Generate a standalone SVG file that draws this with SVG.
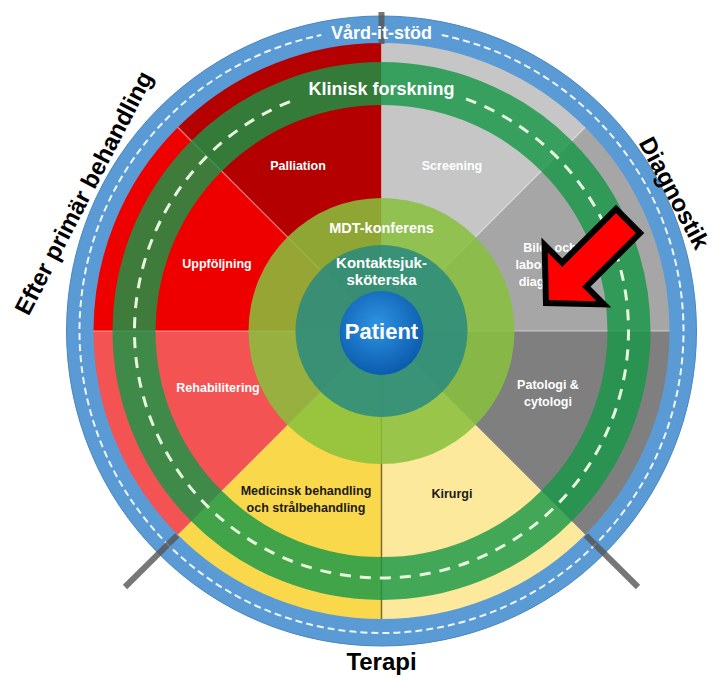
<svg xmlns="http://www.w3.org/2000/svg" width="716" height="677" viewBox="0 0 716 677">
  <defs>
    <style>
      .seglabel { font-family: "Liberation Sans", Arial, sans-serif; font-weight: bold; font-size: 12.5px; text-anchor: middle; fill: #ffffff; }
      .seglabel.dark { fill: #1a1a1a; }
      .core { font-family: "Liberation Sans", Arial, sans-serif; font-weight: bold; text-anchor: middle; fill: #ffffff; }
      .outer { font-family: "Liberation Sans", Arial, sans-serif; font-weight: bold; font-size: 24px; text-anchor: middle; fill: #000000; }
      .divider { stroke: #ffffff; stroke-opacity: 0.35; stroke-width: 1.5; }
      .bar { stroke: #555555; stroke-opacity: 0.8; stroke-width: 6; }
    </style>
    <radialGradient id="patientFill" cx="45%" cy="40%" r="60%">
      <stop offset="0" stop-color="#2f93e3"/>
      <stop offset="1" stop-color="#0b5cae"/>
    </radialGradient>
  </defs>

  <rect width="716" height="677" fill="#ffffff"/>

  <!-- care-phase sectors, centre (381.5,331), radius 289 -->
  <g id="sectors">
    <g id="sector-palliation"><path d="M381.5,331 L177.1,126.6 A289,289 0 0 1 381.5,42 Z" fill="#b40000"/></g>
    <g id="sector-screening"><path d="M381.5,331 L381.5,42 A289,289 0 0 1 585.9,126.6 Z" fill="#c6c6c6"/></g>
    <g id="sector-bild"><path d="M381.5,331 L585.9,126.6 A289,289 0 0 1 670.5,331 Z" fill="#a6a6a6"/></g>
    <g id="sector-patologi"><path d="M381.5,331 L670.5,331 A289,289 0 0 1 585.9,535.4 Z" fill="#7f7f7f"/></g>
    <g id="sector-kirurgi"><path d="M381.5,331 L585.9,535.4 A289,289 0 0 1 381.5,620 Z" fill="#fde99b"/></g>
    <g id="sector-medicinsk"><path d="M381.5,331 L381.5,620 A289,289 0 0 1 177.1,535.4 Z" fill="#fad84c"/></g>
    <g id="sector-rehabilitering"><path d="M381.5,331 L177.1,535.4 A289,289 0 0 1 92.5,331 Z" fill="#f35353"/></g>
    <g id="sector-uppfoljning"><path d="M381.5,331 L92.5,331 A289,289 0 0 1 177.1,126.6 Z" fill="#ee0000"/></g>
  </g>

  <!-- sector boundaries and the phase markers -->
  <g id="connectors">
    <line class="divider" x1="381.5" y1="331" x2="177.1" y2="126.6"/>
    <line class="divider" x1="381.5" y1="331" x2="585.9" y2="126.6"/>
    <line class="divider" x1="381.5" y1="331" x2="92.5" y2="331"/>
    <line class="divider" x1="381.5" y1="331" x2="670.5" y2="331"/>
    <line x1="381.5" y1="331" x2="381.5" y2="620" stroke="#5a4a20" stroke-opacity="0.8" stroke-width="1.5"/>
  </g>

  <!-- Klinisk forskning ring -->
  <g id="ring-forskning">
    <circle cx="381.5" cy="331" r="247.5" fill="none" stroke="#169848" stroke-opacity="0.81" stroke-width="43"/>
    <path d="M466,98.9 A247,247 0 1 1 297,98.9" fill="none" stroke="#e6f7dc" stroke-width="3" stroke-dasharray="11 9"/>
    <text class="core" x="381.5" y="95" font-size="18">Klinisk forskning</text>
  </g>

  <!-- inner circles -->
  <g id="mdt">
    <circle cx="381.5" cy="331" r="133" fill="#88c03c" fill-opacity="0.86"/>
    <text class="core" x="381.5" y="233" font-size="14.5">MDT-konferens</text>
  </g>
  <g id="kontaktsjukskoterska">
    <circle cx="381.5" cy="331" r="86" fill="#2a8a7e" fill-opacity="0.86"/>
    <text class="core" x="381.5" y="268" font-size="15">Kontaktsjuk-</text>
    <text class="core" x="381.5" y="285" font-size="15">sköterska</text>
  </g>
  <g id="patient">
    <circle cx="381.5" cy="333" r="42" fill="url(#patientFill)"/>
    <text class="core" x="381.5" y="339" font-size="22">Patient</text>
  </g>

  <!-- sector labels -->
  <g id="label-palliation"><text class="seglabel" x="298" y="170">Palliation</text></g>
  <g id="label-screening"><text class="seglabel" x="452" y="170">Screening</text></g>
  <g id="label-uppfoljning"><text class="seglabel" x="217" y="268">Uppföljning</text></g>
  <g id="label-bild">
    <text class="seglabel" x="550" y="252">Bild- och</text>
    <text class="seglabel" x="550" y="269">laboratorie-</text>
    <text class="seglabel" x="550" y="286">diagnostik</text>
  </g>
  <g id="label-rehabilitering"><text class="seglabel" x="218" y="392">Rehabilitering</text></g>
  <g id="label-patologi">
    <text class="seglabel" x="548" y="389">Patologi &amp;</text>
    <text class="seglabel" x="548" y="406">cytologi</text>
  </g>
  <g id="label-medicinsk">
    <text class="seglabel dark" x="306" y="495">Medicinsk behandling</text>
    <text class="seglabel dark" x="306" y="512">och strålbehandling</text>
  </g>
  <g id="label-kirurgi"><text class="seglabel dark" x="452" y="498">Kirurgi</text></g>

  <!-- Vård-it-stöd ring -->
  <g id="ring-vardit">
    <circle cx="381.5" cy="331" r="301.5" fill="none" stroke="#5b9bd5" stroke-width="27"/>
    <circle cx="381.5" cy="331" r="315" fill="none" stroke="#4a87bf" stroke-width="1"/>
    <path d="M441.7,35.1 A302,302 0 1 1 321.3,35.1" fill="none" stroke="#ffffff" stroke-opacity="0.9" stroke-width="2" stroke-dasharray="7 4"/>
    <line class="bar" x1="381.5" y1="12" x2="381.5" y2="44"/>
    <line class="bar" x1="177.1" y1="535.4" x2="125" y2="587"/>
    <line class="bar" x1="585.9" y1="535.4" x2="638" y2="587"/>
    <text class="core" x="381.5" y="39" font-size="18">Vård-it-stöd</text>
  </g>

  <!-- phase headings -->
  <g id="phase-efter"><text class="outer" transform="translate(84,193) rotate(-62.5)" y="8">Efter primär behandling</text></g>
  <g id="phase-diagnostik"><text class="outer" transform="translate(674,193) rotate(62)" y="8" font-size="22.5">Diagnostik</text></g>
  <g id="phase-terapi"><text class="outer" x="381.5" y="670">Terapi</text></g>

  <!-- pointer arrow -->
  <g id="pointer">
    <path transform="translate(546,303) rotate(-45)" d="M0,0 L40,-42 L40,-17 L116,-17 L116,17 L40,17 L40,42 Z" fill="#ff0000" stroke="#000000" stroke-width="6" stroke-linejoin="miter"/>
  </g>
</svg>
